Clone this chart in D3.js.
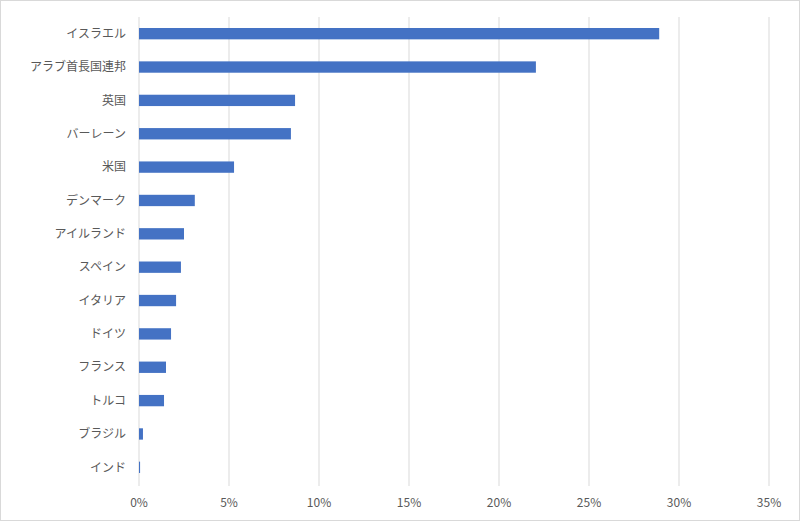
<!DOCTYPE html><html><head><meta charset="utf-8">
<script src="https://cdn.jsdelivr.net/npm/d3@7"></script>
<style>body{margin:0;background:#fff}</style></head><body>
<svg id="c" width="800" height="523"></svg>
<script>
const categories=["イスラエル","アラブ首長国連邦","英国","バーレーン","米国","デンマーク","アイルランド","スペイン","イタリア","ドイツ","フランス","トルコ","ブラジル","インド"];
const values=[28.9,22.05,8.67,8.44,5.28,3.1,2.5,2.33,2.06,1.78,1.5,1.39,0.22,0.06];
const ticks=[0,5,10,15,20,25,30,35];
const svg=d3.select("#c");
svg.append("rect").attr("x",0.5).attr("y",0.5).attr("width",799).attr("height",520).attr("fill","#fff").attr("stroke","#d9d9d9");
const x=d3.scaleLinear().domain([0,35]).range([139,769]);
const y=d3.scaleBand().domain(categories).range([17,484]).paddingInner(0.66).paddingOuter(0.33);
const font="'Noto Sans CJK JP','Noto Sans',sans-serif";
svg.append("g").selectAll("line").data(ticks).join("line")
 .attr("x1",d=>x(d)).attr("x2",d=>x(d)).attr("y1",17).attr("y2",486).attr("stroke","#d9d9d9");
svg.append("g").selectAll("rect").data(values).join("rect")
 .attr("x",x(0)).attr("y",(d,i)=>y(categories[i])).attr("height",y.bandwidth())
 .attr("width",d=>x(d)-x(0)).attr("fill","#4472c4");
svg.append("g").selectAll("text").data(categories).join("text")
 .attr("x",126).attr("y",d=>y(d)+y.bandwidth()/2).attr("dy","0.35em").attr("text-anchor","end")
 .attr("font-family",font).attr("font-size",12).attr("fill","#595959").text(d=>d);
svg.append("g").selectAll("text").data(ticks).join("text")
 .attr("x",d=>x(d)).attr("y",507).attr("text-anchor","middle")
 .attr("font-family",font).attr("font-size",12).attr("fill","#595959").text(d=>d+"%");
</script></body></html>
